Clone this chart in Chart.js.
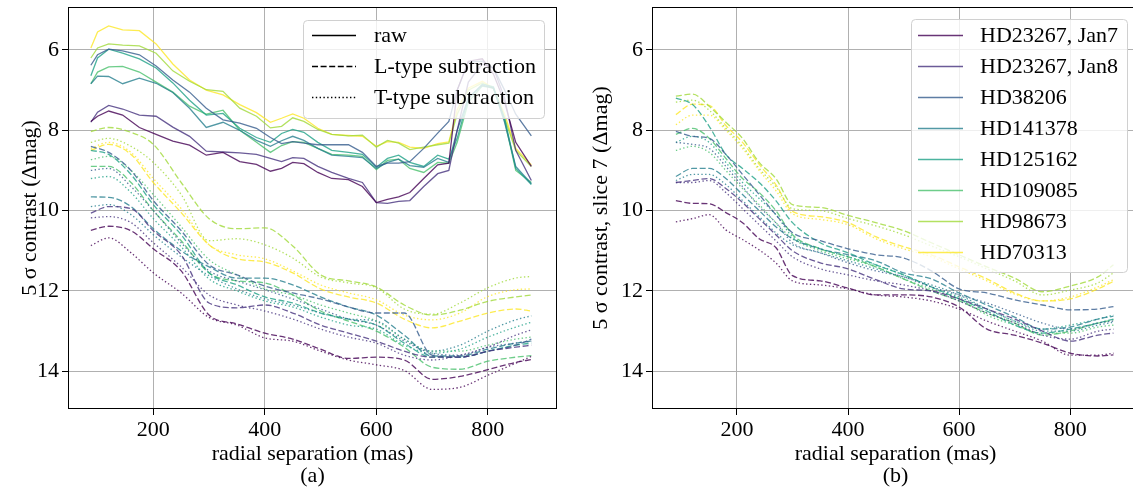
<!DOCTYPE html>
<html>
<head>
<meta charset="utf-8">
<script src="https://cdn.jsdelivr.net/npm/chart.js@4/dist/chart.umd.min.js"></script>
<style>
  body { margin: 0; background: #fff; width: 1133px; height: 487px; overflow: hidden; position: relative; }
  canvas { position: absolute; top: 0; }
  #chartA { left: 0; }
  #chartB { left: 580px; }
</style>
</head>
<body>
<canvas id="chartA" width="565" height="487"></canvas>
<canvas id="chartB" width="567" height="487"></canvas>
<script>
// stars, same order in both panels
const stars = ['HD23267, Jan7', 'HD23267, Jan8', 'HD38206', 'HD141378', 'HD125162', 'HD109085', 'HD98673', 'HD70313'];
const colors = ['#440154', '#46327e', '#365c8d', '#277f8e', '#1fa187', '#4ac16d', '#a0da39', '#fde725'];

// panel (a): raw curves
const sepRaw = [88, 100, 120, 145, 175, 205, 235, 265, 295, 325, 355, 385, 410, 430, 450, 470, 495, 520, 550, 575, 600, 620, 640, 660, 685, 710, 730, 745, 765, 790, 810, 830, 850, 878];
const rawJan7   = [7.78, 7.65, 7.52, 7.62, 7.93, 8.10, 8.27, 8.37, 8.62, 8.55, 8.78, 8.85, 9.02, 8.95, 8.80, 8.83, 9.05, 9.20, 9.23, 9.40, 9.80, 9.72, 9.66, 9.55, 9.20, 8.86, 8.82, 7.00, 6.28, 6.22, 6.60, 7.30, 8.30, 8.90];
const rawJan8   = [7.80, 7.55, 7.38, 7.47, 7.62, 7.65, 7.92, 8.15, 8.52, 8.54, 8.56, 8.60, 8.70, 8.78, 8.68, 8.70, 8.90, 9.05, 9.20, 9.30, 9.80, 9.82, 9.77, 9.75, 9.40, 9.08, 9.00, 8.00, 6.80, 6.35, 6.45, 7.20, 8.50, 9.25];
const raw38206  = [6.38, 6.12, 5.98, 6.02, 6.12, 6.40, 6.75, 7.05, 7.45, 7.74, 7.82, 7.95, 8.18, 8.33, 8.28, 8.32, 8.36, 8.36, 8.36, 8.55, 8.90, 8.82, 8.82, 8.78, 8.45, 8.07, 7.78, 7.00, 6.30, 6.28, 6.45, 7.00, 7.60, 8.14];
const raw141378 = [6.84, 6.65, 6.66, 6.84, 6.70, 6.83, 7.06, 7.45, 7.93, 7.80, 8.00, 8.25, 8.40, 8.26, 8.15, 8.25, 8.45, 8.62, 8.65, 8.68, 8.95, 8.80, 8.72, 8.88, 8.92, 8.70, 8.80, 8.00, 7.20, 6.88, 6.95, 7.80, 8.90, 9.33];
const raw125162 = [6.64, 6.20, 5.98, 6.08, 6.22, 6.45, 6.82, 7.25, 7.62, 7.58, 7.95, 8.18, 8.30, 8.08, 7.98, 8.05, 8.30, 8.50, 8.55, 8.60, 8.92, 8.70, 8.62, 8.80, 8.90, 8.62, 8.72, 8.20, 7.20, 6.85, 6.92, 7.70, 8.95, 9.35];
const raw109085 = [6.84, 6.55, 6.42, 6.41, 6.55, 6.80, 7.05, 7.40, 7.60, 7.50, 8.00, 8.30, 8.55, 8.38, 8.28, 8.30, 8.45, 8.60, 8.62, 8.65, 8.98, 8.75, 8.72, 8.95, 9.05, 8.80, 8.82, 8.30, 7.30, 6.90, 6.95, 7.75, 9.00, 9.30];
const raw98673  = [6.20, 5.95, 5.85, 5.88, 5.90, 6.08, 6.52, 6.78, 6.99, 7.03, 7.45, 7.65, 7.94, 7.90, 7.69, 7.78, 7.98, 8.10, 8.14, 8.12, 8.42, 8.25, 8.32, 8.48, 8.42, 8.36, 8.32, 7.60, 7.00, 6.82, 6.95, 7.70, 8.50, 8.90];
const raw70313  = [5.95, 5.55, 5.40, 5.50, 5.52, 5.85, 6.35, 6.75, 7.00, 7.12, 7.36, 7.56, 7.80, 7.70, 7.59, 7.70, 7.95, 8.10, 8.13, 8.15, 8.40, 8.28, 8.30, 8.42, 8.45, 8.33, 8.29, 7.49, 6.95, 6.78, 6.95, 7.60, 8.45, 8.86];

// panel (a): L-type (dashed) and T-type (dotted) subtraction
const sepA = [88, 120, 160, 200, 250, 300, 350, 400, 450, 500, 550, 600, 650, 700, 750, 800, 850, 878];
const aLJan7   = [10.49, 10.39, 10.50, 10.95, 11.50, 12.60, 12.82, 13.05, 13.20, 13.45, 13.68, 13.65, 13.72, 14.20, 14.13, 13.96, 13.78, 13.71];
const aTJan7   = [10.87, 10.68, 11.05, 11.55, 12.05, 12.66, 12.85, 13.17, 13.25, 13.50, 13.72, 13.84, 13.98, 14.45, 14.40, 14.10, 13.80, 13.63];
const aLJan8   = [10.06, 9.90, 9.95, 10.50, 11.10, 12.30, 12.42, 12.35, 12.55, 12.85, 13.05, 13.25, 13.50, 13.65, 13.65, 13.50, 13.40, 13.35];
const aTJan8   = [10.18, 10.15, 10.30, 10.80, 11.40, 12.10, 12.35, 12.50, 12.70, 12.95, 13.15, 13.30, 13.60, 13.72, 13.60, 13.40, 13.10, 12.97];
const aL38206  = [8.40, 8.55, 9.00, 9.75, 10.50, 11.35, 11.60, 11.88, 12.05, 12.20, 12.40, 12.55, 12.55, 13.60, 13.65, 13.50, 13.35, 13.20];
const aT38206  = [9.00, 8.95, 9.40, 10.00, 10.80, 11.50, 11.75, 11.97, 12.20, 12.45, 12.70, 12.85, 13.25, 13.55, 13.60, 13.40, 13.30, 13.25];
const aL141378 = [9.66, 9.67, 9.90, 10.45, 11.00, 11.40, 11.68, 11.68, 11.85, 12.15, 12.40, 12.60, 13.10, 13.62, 13.62, 13.45, 13.30, 13.25];
const aT141378 = [9.90, 9.85, 10.10, 10.60, 11.15, 11.62, 11.95, 12.20, 12.35, 12.55, 12.70, 12.75, 13.20, 13.50, 13.35, 13.00, 12.72, 12.62];
const aL125162 = [8.50, 8.60, 9.10, 9.85, 10.60, 11.55, 11.85, 12.15, 12.30, 12.55, 12.70, 12.85, 13.30, 13.65, 13.65, 13.50, 13.35, 13.30];
const aT125162 = [9.20, 9.15, 9.55, 10.20, 10.90, 11.70, 12.00, 12.25, 12.40, 12.65, 12.85, 12.95, 13.35, 13.55, 13.45, 13.15, 12.90, 12.78];
const aL109085 = [8.90, 8.90, 9.30, 10.00, 10.75, 11.55, 11.75, 11.80, 12.10, 12.50, 12.75, 13.00, 13.40, 13.90, 13.95, 13.75, 13.65, 13.61];
const aT109085 = [8.73, 8.65, 9.00, 9.60, 10.40, 11.22, 11.60, 11.95, 12.10, 12.35, 12.55, 12.75, 13.20, 13.50, 13.50, 13.35, 13.20, 13.15];
const aL98673  = [8.03, 7.93, 8.05, 8.35, 9.30, 10.20, 10.45, 10.43, 10.88, 11.60, 11.75, 11.90, 12.35, 12.60, 12.48, 12.26, 12.15, 12.10];
const aT98673  = [8.30, 8.20, 8.40, 8.80, 9.60, 10.75, 10.70, 10.85, 11.18, 11.65, 11.80, 11.92, 12.45, 12.58, 12.30, 11.92, 11.68, 11.64];
const aL70313  = [8.50, 8.35, 8.60, 9.30, 10.05, 10.85, 11.20, 11.28, 11.55, 11.95, 12.15, 12.30, 12.70, 12.92, 12.75, 12.55, 12.45, 12.50];
const aT70313  = [8.45, 8.30, 8.55, 9.20, 9.95, 10.85, 11.10, 11.20, 11.50, 11.85, 12.05, 12.22, 12.60, 12.72, 12.55, 12.14, 11.97, 11.95];

// panel (b): slice 7, L-type (dashed) and T-type (dotted)
const sepB = [90, 120, 150, 180, 210, 240, 270, 300, 350, 400, 450, 500, 550, 600, 650, 700, 750, 800, 850, 878];
const bLJan7   = [9.75, 9.82, 9.83, 10.05, 10.30, 10.70, 10.92, 11.62, 11.75, 11.93, 12.10, 12.10, 12.15, 12.40, 12.95, 13.10, 13.30, 13.55, 13.62, 13.59];
const bTJan7   = [10.28, 10.20, 10.10, 10.48, 10.72, 10.98, 11.30, 11.75, 11.85, 11.95, 12.10, 12.15, 12.25, 12.45, 12.75, 13.00, 13.25, 13.60, 13.60, 13.55];
const bLJan8   = [9.30, 9.25, 9.20, 9.45, 9.80, 10.20, 10.60, 11.00, 11.30, 11.45, 11.72, 11.95, 12.00, 12.20, 12.45, 12.70, 13.00, 13.25, 13.10, 13.05];
const bTJan8   = [9.30, 9.30, 9.25, 9.55, 9.95, 10.35, 10.75, 11.15, 11.45, 11.60, 11.75, 11.85, 12.00, 12.25, 12.55, 12.80, 13.10, 13.20, 13.00, 12.95];
const bL38206  = [8.03, 8.15, 8.20, 8.60, 9.10, 9.60, 10.10, 10.55, 10.75, 10.95, 11.10, 11.18, 11.50, 11.95, 12.05, 12.22, 12.35, 12.47, 12.45, 12.39];
const bT38206  = [8.30, 8.35, 8.45, 8.90, 9.40, 9.90, 10.30, 10.80, 11.05, 11.30, 11.50, 11.65, 11.90, 12.10, 12.30, 12.55, 12.80, 12.95, 12.80, 12.75];
const bL141378 = [9.15, 8.95, 8.95, 9.20, 9.60, 10.00, 10.40, 10.70, 10.95, 11.10, 11.25, 11.55, 11.70, 12.05, 12.35, 12.65, 12.95, 12.90, 12.70, 12.63];
const bT141378 = [9.25, 9.10, 9.10, 9.35, 9.75, 10.15, 10.55, 10.85, 11.05, 11.25, 11.45, 11.65, 11.85, 12.10, 12.45, 12.75, 13.00, 13.00, 12.85, 12.78];
const bL125162 = [7.20, 7.36, 7.90, 8.60, 8.95, 9.30, 9.75, 10.30, 10.80, 11.05, 11.35, 11.60, 11.90, 12.20, 12.50, 12.85, 13.05, 12.95, 12.80, 12.70];
const bT125162 = [8.30, 8.15, 8.30, 8.80, 9.30, 9.70, 10.10, 10.65, 10.95, 11.15, 11.35, 11.60, 11.90, 12.15, 12.45, 12.75, 12.95, 12.85, 12.70, 12.60];
const bL109085 = [8.10, 7.95, 8.20, 8.70, 9.20, 9.55, 10.00, 10.60, 10.95, 11.15, 11.40, 11.70, 12.00, 12.25, 12.55, 12.80, 13.10, 13.00, 12.80, 12.72];
const bT109085 = [8.50, 8.40, 8.55, 9.00, 9.45, 9.85, 10.30, 10.70, 11.00, 11.20, 11.40, 11.70, 11.95, 12.20, 12.60, 12.85, 13.05, 13.05, 12.90, 12.85];
const bL98673  = [7.15, 7.10, 7.40, 7.80, 8.20, 8.80, 9.20, 9.85, 9.92, 10.12, 10.30, 10.50, 10.80, 11.10, 11.40, 11.68, 12.02, 11.88, 11.65, 11.35];
const bT98673  = [7.30, 7.25, 7.50, 7.95, 8.40, 8.95, 9.40, 9.95, 10.00, 10.20, 10.38, 10.60, 10.88, 11.15, 11.45, 11.75, 12.10, 11.98, 11.80, 11.55];
const bL70313  = [7.61, 7.35, 7.38, 7.88, 8.30, 8.85, 9.35, 10.02, 10.15, 10.30, 10.65, 10.90, 11.10, 11.40, 11.70, 12.05, 12.25, 12.20, 11.95, 11.76];
const bT70313  = [7.86, 7.62, 7.62, 8.00, 8.45, 9.00, 9.50, 10.08, 10.22, 10.35, 10.70, 10.95, 11.15, 11.45, 11.75, 12.08, 12.25, 12.15, 11.90, 11.72];

const rawA = [rawJan7, rawJan8, raw38206, raw141378, raw125162, raw109085, raw98673, raw70313];
const LA = [aLJan7, aLJan8, aL38206, aL141378, aL125162, aL109085, aL98673, aL70313];
const TA = [aTJan7, aTJan8, aT38206, aT141378, aT125162, aT109085, aT98673, aT70313];
const LB = [bLJan7, bLJan8, bL38206, bL141378, bL125162, bL109085, bL98673, bL70313];
const TB = [bTJan7, bTJan8, bT38206, bT141378, bT125162, bT109085, bT98673, bT70313];

const FONT = "'Liberation Serif', 'Times New Roman', serif";
const DASH = [6, 2.6];
const DOT = [1.4, 2.4];
Chart.defaults.color = '#000';
Chart.defaults.font.family = FONT;

function pts(xs, ys) { return xs.map((x, k) => ({ x, y: ys[k] })); }

function line(xs, ys, color, dash, smooth) {
  return {
    data: pts(xs, ys),
    borderColor: color + 'cc',
    borderWidth: 1.3,
    borderDash: dash,
    pointRadius: 0,
    fill: false,
    cubicInterpolationMode: smooth ? 'monotone' : 'default',
    tension: 0
  };
}

// black frame round the plot area
const framePlugin = {
  id: 'frame',
  afterDatasetsDraw(chart) {
    const { ctx, chartArea: a } = chart;
    ctx.save();
    ctx.strokeStyle = '#000';
    ctx.lineWidth = 1;
    ctx.strokeRect(Math.round(a.left) + 0.5, Math.round(a.top) + 0.5, Math.round(a.right - a.left) - 1, Math.round(a.bottom - a.top) - 1);
    ctx.restore();
  }
};

// matplotlib-like legend box inside the axes
const boxLegend = {
  id: 'boxLegend',
  afterDatasetsDraw(chart, args, o) {
    const ctx = chart.ctx;
    ctx.save();
    ctx.beginPath();
    ctx.roundRect(o.x + 0.5, o.y + 0.5, o.w, o.h, 4);
    ctx.fillStyle = 'rgba(255,255,255,0.8)';
    ctx.fill();
    ctx.strokeStyle = '#d0d0d0';
    ctx.lineWidth = 1;
    ctx.stroke();
    ctx.font = '22px ' + FONT;
    ctx.textBaseline = 'middle';
    o.items.forEach((it, i) => {
      const y = Math.round(o.y + o.first + i * o.step) + 0.5;
      ctx.beginPath();
      ctx.setLineDash(it.dash);
      ctx.strokeStyle = it.color;
      ctx.lineWidth = 1.3;
      ctx.moveTo(o.lineX, y);
      ctx.lineTo(o.lineX + o.lineW, y);
      ctx.stroke();
      ctx.setLineDash([]);
      ctx.fillStyle = '#000';
      ctx.fillText(it.label, o.textX, y + 1);
    });
    ctx.restore();
  }
};

function scales(yTitle, yPad, yWidth, letter) {
  return {
    x: {
      type: 'linear', min: 47, max: 924,
      ticks: { stepSize: 200, includeBounds: false, autoSkip: false, maxRotation: 0, padding: 2, font: { size: 22 } },
      grid: { color: '#b0b0b0', lineWidth: 1, tickLength: 6, tickColor: '#000' },
      border: { display: false },
      title: { display: true, text: ['radial separation (mas)', letter], font: { size: 22, lineHeight: 1 }, padding: { top: 0, bottom: 0 } },
      afterFit(s) { s.height = 78; s.paddingLeft = 0; s.paddingRight = 0; }
    },
    y: {
      type: 'linear', reverse: true, min: 4.93, max: 14.94,
      ticks: { stepSize: 2, includeBounds: false, autoSkip: false, padding: 3, font: { size: 22 } },
      grid: { color: '#b0b0b0', lineWidth: 1, tickLength: 6, tickColor: '#000' },
      border: { display: false },
      title: { display: true, text: yTitle, font: { size: 22, lineHeight: 1 }, padding: { top: yPad, bottom: 0 } },
      afterFit(s) { s.width = yWidth; s.paddingTop = 0; s.paddingBottom = 0; }
    }
  };
}

// panel (a)
const dsA = [];
stars.forEach((s, i) => {
  dsA.push(line(sepRaw, rawA[i], colors[i], [], false));
  dsA.push(line(sepA, LA[i], colors[i], DASH, true));
  dsA.push(line(sepA, TA[i], colors[i], DOT, true));
});

new Chart(document.getElementById('chartA'), {
  type: 'line',
  data: { datasets: dsA },
  options: {
    responsive: false,
    animation: false,
    events: [],
    layout: { padding: { left: 0, right: 8, top: 7, bottom: 0 } },
    scales: scales('5 σ contrast (Δmag)', 19, 68, '(a)'),
    plugins: {
      legend: { display: false },
      tooltip: { enabled: false },
      boxLegend: {
        x: 303, y: 20, w: 241, h: 98, first: 15, step: 31, lineX: 312, lineW: 44, textX: 374,
        items: [
          { label: 'raw', color: '#000', dash: [] },
          { label: 'L-type subtraction', color: '#000', dash: DASH },
          { label: 'T-type subtraction', color: '#000', dash: DOT }
        ]
      }
    }
  },
  plugins: [framePlugin, boxLegend]
});

// panel (b)
const dsB = [];
stars.forEach((s, i) => {
  dsB.push(line(sepB, LB[i], colors[i], DASH, true));
  dsB.push(line(sepB, TB[i], colors[i], DOT, true));
});

new Chart(document.getElementById('chartB'), {
  type: 'line',
  data: { datasets: dsB },
  options: {
    responsive: false,
    animation: false,
    events: [],
    layout: { padding: { left: 0, right: 8, top: 7, bottom: 0 } },
    scales: scales('5 σ contrast, slice 7 (Δmag)', 10, 72, '(b)'),
    plugins: {
      legend: { display: false },
      tooltip: { enabled: false },
      boxLegend: {
        x: 331, y: 19, w: 216, h: 253, first: 16, step: 30.95, lineX: 338, lineW: 45, textX: 400,
        items: stars.map((s, i) => ({ label: s, color: colors[i] + 'cc', dash: [] }))
      }
    }
  },
  plugins: [framePlugin, boxLegend]
});
</script>
</body>
</html>
